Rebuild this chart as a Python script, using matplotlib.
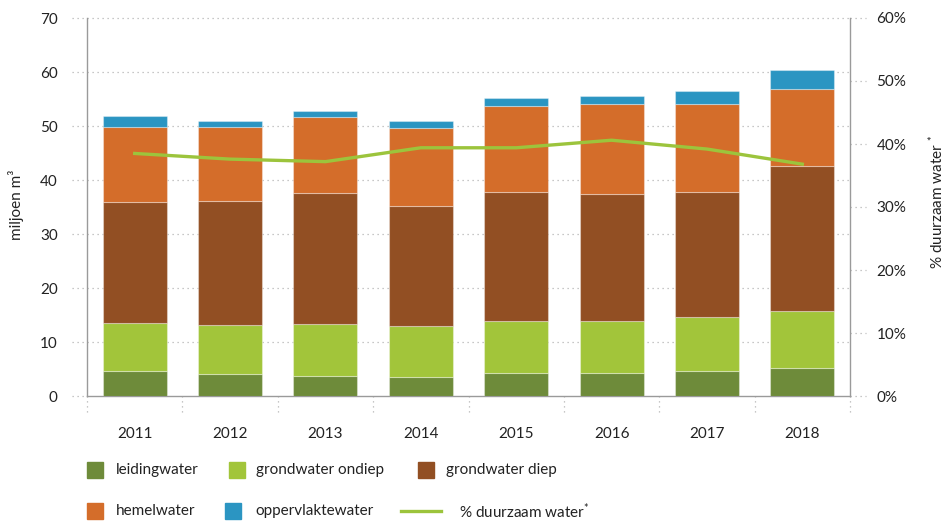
import numpy as np
import matplotlib
matplotlib.use("Agg")
import matplotlib.pyplot as plt
from matplotlib.patches import Rectangle
from matplotlib.lines import Line2D

plt.rcParams['font.family'] = ['Lato', 'DejaVu Sans']
plt.rcParams['mathtext.fontset'] = 'custom'
plt.rcParams['mathtext.rm'] = 'Lato'
plt.rcParams['mathtext.it'] = 'Lato'

# data (miljoen m3)
years = ['2011', '2012', '2013', '2014', '2015', '2016', '2017', '2018']
leidingwater = [4.6, 4.0, 3.7, 3.6, 4.3, 4.3, 4.7, 5.2]
grondwater_ondiep = [8.9, 9.2, 9.6, 9.3, 9.6, 9.6, 9.9, 10.5]
grondwater_diep = [22.4, 23.0, 24.3, 22.2, 23.9, 23.6, 23.2, 26.9]
hemelwater = [13.9, 13.7, 14.0, 14.6, 15.9, 16.6, 16.2, 14.2]
oppervlaktewater = [2.0, 1.1, 1.2, 1.2, 1.5, 1.4, 2.5, 3.6]
pct_duurzaam = [38.5, 37.6, 37.2, 39.4, 39.4, 40.6, 39.2, 36.8]

series = [
    ('leidingwater', leidingwater, '#6e8b3a'),
    ('grondwater ondiep', grondwater_ondiep, '#a2c53a'),
    ('grondwater diep', grondwater_diep, '#924f23'),
    ('hemelwater', hemelwater, '#d46d2a'),
    ('oppervlaktewater', oppervlaktewater, '#2b95c2'),
]
line_color = '#9cc43c'
txt = '#222222'
grid_c = '#b5b5b5'
spine_c = '#9a9a9a'

W, H = 946, 523
fig = plt.figure(figsize=(W / 100, H / 100), dpi=100)
ax = fig.add_axes([87 / W, 1 - 396 / H, (850 - 87) / W, (396 - 18) / H])
ax2 = ax.twinx()

x = np.arange(len(years))
bottom = np.zeros(len(years))
for name, vals, col in series:
    ax.bar(x, vals, bottom=bottom, width=0.67, color=col,
           edgecolor=(1, 1, 1, 0.35), linewidth=0.8, zorder=3)
    bottom += np.array(vals)

ax2.plot(x, pct_duurzaam, color=line_color, lw=2.4, zorder=4)

ax.set_xlim(-0.5, len(years) - 0.5)
ax.set_ylim(0, 70)
ax2.set_ylim(0, 60)
ax.set_yticks(np.arange(0, 71, 10))
ax2.set_yticks(np.arange(0, 61, 10))
ax2.set_yticklabels([f'{v}%' for v in range(0, 61, 10)])
ax.set_xticks(x)
ax.set_xticklabels(years)

ax.tick_params(axis='y', length=0, pad=21, labelsize=11, labelcolor=txt)
ax2.tick_params(axis='y', length=0, pad=19, labelsize=11, labelcolor=txt)
ax.tick_params(axis='x', length=0, pad=22, labelsize=11, labelcolor=txt)

for a in (ax, ax2):
    for s in a.spines.values():
        s.set_visible(False)
ax.spines['left'].set_visible(True)
ax.spines['bottom'].set_visible(True)
ax2.spines['right'].set_visible(True)
for s in (ax.spines['left'], ax.spines['bottom'], ax2.spines['right']):
    s.set_color(spine_c)
    s.set_linewidth(1.0)

# dotted grid, extending a little left of the axis
ext = 15 / (850 - 87)
ax.hlines(np.arange(10, 71, 10), -ext, 1, transform=ax.get_yaxis_transform(),
          colors=grid_c, linestyles=(0, (1, 3)), lw=0.9, clip_on=False, zorder=1)
ax.hlines([0], -ext, 0, transform=ax.get_yaxis_transform(),
          colors=grid_c, linestyles=(0, (1, 3)), lw=0.9, clip_on=False, zorder=1)
# short dotted ticks right of the right axis
ax2.hlines(np.arange(0, 61, 10), 1, 1 + 16 / (850 - 87), transform=ax2.get_yaxis_transform(),
           colors=grid_c, linestyles=(0, (1, 3)), lw=0.9, clip_on=False)
# dotted separators below the x axis
ax.vlines(np.arange(len(years) + 1) - 0.5, -16 / 378, 0, transform=ax.get_xaxis_transform(),
          colors=grid_c, linestyles=(0, (1, 3)), lw=0.9, clip_on=False)

fig.text(16 / W, 1 - 205 / H, 'miljoen m³', rotation=90, ha='center', va='center',
         fontsize=11, color=txt)
fig.text(936 / W, 1 - 202 / H, '% duurzaam water $^{*}$', rotation=90, ha='center',
         va='center', fontsize=11, color=txt)

# legend, laid out in two rows like the reference
def patch_entry(px, py, col, label, tx):
    fig.add_artist(Rectangle((px / W, 1 - (py + 8) / H), 16 / W, 16 / H,
                             transform=fig.transFigure, color=col))
    fig.text(tx / W, 1 - py / H, label, ha='left', va='center', fontsize=11, color=txt)

patch_entry(87, 470, series[0][2], series[0][0], 116)
patch_entry(229, 470, series[1][2], series[1][0], 256)
patch_entry(418, 470, series[2][2], series[2][0], 446)
patch_entry(87, 511, series[3][2], series[3][0], 116)
patch_entry(225, 511, series[4][2], series[4][0], 255)
fig.add_artist(Line2D([401 / W, 441 / W], [1 - 511 / H, 1 - 511 / H],
                      transform=fig.transFigure, color=line_color, lw=2.4))
fig.text(459 / W, 1 - 511 / H, '% duurzaam water$^{*}$', ha='left', va='center',
         fontsize=11, color=txt)

fig.savefig('out.png', dpi=100)
